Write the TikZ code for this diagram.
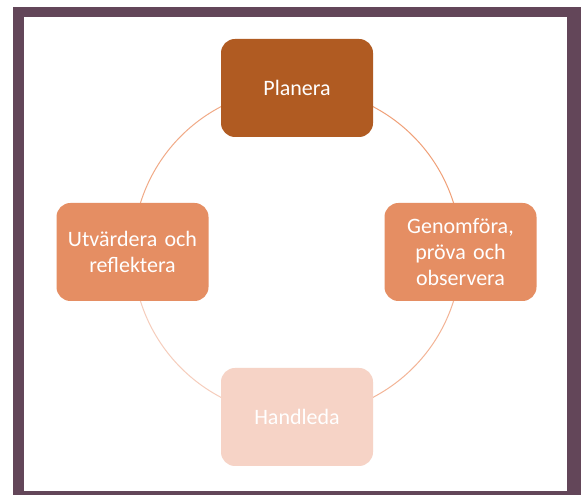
\documentclass[tikz,border=0pt]{standalone}
\usepackage{fontspec}
\setmainfont{Carlito}
\definecolor{framec}{RGB}{99,70,89}
\definecolor{darkor}{RGB}{176,91,34}
\definecolor{midor}{RGB}{229,142,99}
\definecolor{lightor}{RGB}{246,211,198}
\definecolor{arcA}{RGB}{240,160,120}
\definecolor{arcB}{RGB}{243,180,150}
\definecolor{arcC}{RGB}{246,205,188}
\definecolor{arcD}{RGB}{241,170,135}
\tikzset{
  box/.style={rectangle, rounded corners=14pt, minimum width=152pt, minimum height=98pt,
    text=white, align=center, inner sep=2pt, text width=146pt,
    font=\fontsize{22}{26}\selectfont},
  cyc/.style={line width=1pt}
}
\begin{document}
\begin{tikzpicture}[x=1pt,y=1pt]
\useasboundingbox (0,0) rectangle (581,495);
% frame
\fill[framec] (13,0) rectangle (581,488);
\fill[white] (24,4) rectangle (567,478);
\coordinate (c) at (297,243);
% cycle arcs
\draw[cyc, arcA] (c) ++(90:164) arc[start angle=90, end angle=0, radius=164];
\draw[cyc, arcB] (c) ++(0:164) arc[start angle=0, end angle=-90, radius=164];
\draw[cyc, arcC] (c) ++(-90:164) arc[start angle=-90, end angle=-180, radius=164];
\draw[cyc, arcD] (c) ++(180:164) arc[start angle=180, end angle=90, radius=164];
% boxes
\node[box, fill=darkor] (plan) at (297,407) {Planera};
\node[box, fill=midor] (gen) at (460.5,243) {Genomföra,\\pröva och\\observera};
\node[box, fill=lightor] (hand) at (297,78) {Handleda};
\node[box, fill=midor] (utv) at (132.5,243) {Utvärdera och\\reflektera};
\end{tikzpicture}
\end{document}
